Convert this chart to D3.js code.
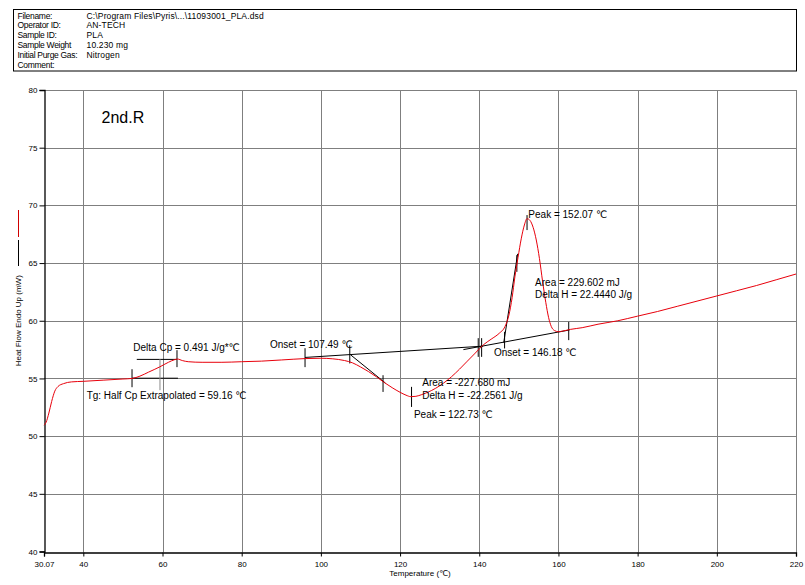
<!DOCTYPE html>
<html>
<head>
<meta charset="utf-8">
<script src="https://cdn.jsdelivr.net/npm/d3@7"></script>
<style>
  html, body { margin: 0; padding: 0; background: #fff; }
  svg { display: block; font-family: "Liberation Sans", Arial, "DejaVu Sans", sans-serif; }
</style>
</head>
<body>
<svg id="chart" width="805" height="585"></svg>
<script>
// ---------- header info ----------
const headerLabels = ["Filename:", "Operator ID:", "Sample ID:", "Sample Weight", "Initial Purge Gas:", "Comment:"];
const headerValues = ["C:\\Program Files\\Pyris\\...\\11093001_PLA.dsd", "AN-TECH", "PLA", "10.230 mg", "Nitrogen", ""];

// ---------- axes ----------
const xTicks = [30.07, 40, 60, 80, 100, 120, 140, 160, 180, 200, 220];
const xTickLabels = ["30.07", "40", "60", "80", "100", "120", "140", "160", "180", "200", "220"];
const yTicks = [40, 45, 50, 55, 60, 65, 70, 75, 80];
const xTitle = "Temperature (\u2103)";
const yTitle = "Heat Flow Endo Up (mW)";
const runLabel = "2nd.R";

// ---------- DSC curve (temperature °C, heat flow mW) ----------
const curveT = [30.07, 30.6, 31.3, 32.0, 32.8, 33.6, 35.0, 37.0, 40.0, 45.0, 50.0, 52.3, 54.3, 56.5, 59.3, 61.5, 63.0, 63.8, 65.0, 66.5,
  70.0, 75.0, 80.0, 85.0, 90.0, 96.0, 100.0, 103.0, 106.0, 108.0, 110.0, 112.0, 114.0, 116.0, 118.0, 120.0, 121.5, 122.73, 124.0, 125.5,
  127.0, 129.0, 131.0, 133.0, 135.0, 137.0, 139.0, 141.0, 143.0, 145.0, 146.5, 147.5, 148.3, 149.0, 149.8, 150.6, 151.4, 152.07, 152.8, 153.6,
  154.4, 155.2, 156.0, 156.8, 157.5, 158.2, 159.0, 160.0, 161.0, 163.0, 166.0, 170.0, 175.0, 180.0, 185.0, 190.0, 195.0, 200.0, 205.0, 210.0,
  215.0, 220.0];
const curveMW = [50.95, 51.2, 52.0, 53.0, 53.9, 54.3, 54.55, 54.7, 54.75, 54.85, 54.95, 55.0, 55.2, 55.55, 56.0, 56.4, 56.62, 56.68, 56.55, 56.45,
  56.4, 56.4, 56.45, 56.5, 56.6, 56.72, 56.75, 56.7, 56.55, 56.35, 56.0, 55.6, 55.15, 54.65, 54.2, 53.8, 53.55, 53.42, 53.45, 53.6,
  53.8, 54.15, 54.6, 55.15, 55.8, 56.5, 57.2, 57.9, 58.4, 58.9, 59.5, 60.5, 62.0, 63.8, 65.5, 67.1, 68.3, 68.85, 68.7, 68.1,
  67.0, 65.4, 63.4, 61.6, 60.3, 59.5, 59.15, 59.05, 59.1, 59.25, 59.4, 59.7, 60.0, 60.4, 60.8, 61.25, 61.7, 62.15, 62.6, 63.05,
  63.55, 64.05];

// ---------- analysis construction lines: [T1, mW1, T2, mW2] ----------
const analysisLines = [
  [53.5, 56.65, 63.6, 56.65],     // Tg upper baseline
  [52.3, 55.02, 63.9, 55.02],     // Tg lower baseline
  [96.0, 56.82, 141.0, 57.8],     // crystallization baseline
  [107.49, 57.05, 116.3, 54.6],   // crystallization onset tangent
  [136.0, 57.5, 162.8, 59.2],     // melting baseline
  [146.18, 58.1, 149.7, 65.8]     // melting onset tangent
];
// vertical marker ticks: [T, mWtop, mWbottom]
const markerTicks = [
  [52.3, 55.8, 54.24], [63.66, 57.45, 55.98],
  [96.0, 57.62, 55.98], [107.3, 57.88, 56.3], [115.7, 55.28, 53.83], [122.9, 54.27, 52.53],
  [139.74, 58.49, 56.87], [140.6, 58.49, 56.87],
  [146.4, 59.04, 57.6], [149.5, 65.69, 64.24], [152.07, 69.16, 67.86], [162.6, 59.9, 58.32]
];
const tgMarker = [59.36, 56.67, 53.98];

// ---------- annotation texts: [T, mW, text] ----------
const annotations = [
  [52.62, 57.39, "Delta Cp = 0.491 J/g*\u2103"],
  [40.84, 53.2, "Tg: Half Cp Extrapolated = 59.16 \u2103"],
  [87.14, 57.6, "Onset = 107.49 \u2103"],
  [125.6, 54.35, "Area = -227.680 mJ"],
  [125.6, 53.26, "Delta H = -22.2561 J/g"],
  [123.5, 51.6, "Peak = 122.73 \u2103"],
  [143.7, 56.93, "Onset = 146.18 \u2103"],
  [152.4, 68.87, "Peak = 152.07 \u2103"],
  [154.1, 63.0, "Area = 229.602 mJ"],
  [154.1, 61.93, "Delta H = 22.4440 J/g"]
];

// ---------- drawing ----------
const svg = d3.select("#chart");
const plot = { left: 44, right: 796, top: 90, bottom: 551.5 };
const x = d3.scaleLinear().domain([30.07, 220]).range([plot.left, plot.right]);
const y = d3.scaleLinear().domain([40, 80]).range([plot.bottom, plot.top]);

// header box
svg.append("rect").attr("x", 13.5).attr("y", 9.5).attr("width", 783).attr("height", 61.5)
  .attr("fill", "none").attr("stroke", "#000").attr("stroke-width", 1);
const hdr = svg.append("g").attr("font-size", 8.5).attr("fill", "#000");
headerLabels.forEach((t, i) => {
  const by = 18.5 + i * 9.9;
  hdr.append("text").attr("x", 17.5).attr("y", by).attr("letter-spacing", -0.3).text(t);
  hdr.append("text").attr("x", 86.5).attr("y", by).attr("letter-spacing", 0.15).text(headerValues[i]);
});

// grid
const grid = svg.append("g").attr("stroke", "#7f7f7f").attr("stroke-width", 1).attr("shape-rendering", "crispEdges");
grid.selectAll("line.vx").data(xTicks.slice(1)).join("line")
  .attr("x1", d => Math.round(x(d)) + 0.5).attr("x2", d => Math.round(x(d)) + 0.5)
  .attr("y1", plot.top).attr("y2", plot.bottom);
grid.selectAll("line.hy").data(yTicks.slice(1)).join("line")
  .attr("y1", d => Math.round(y(d)) + 0.5).attr("y2", d => Math.round(y(d)) + 0.5)
  .attr("x1", plot.left).attr("x2", plot.right);

// axes
const xAxis = d3.axisBottom(x).tickValues(xTicks).tickSize(4).tickPadding(5)
  .tickFormat((d, i) => xTickLabels[i]);
const gx = svg.append("g").attr("transform", `translate(0,${Math.round(plot.bottom) + 0.5})`).call(xAxis);
const yAxis = d3.axisLeft(y).tickValues(yTicks).tickSize(5).tickPadding(2).tickFormat(d3.format("d"));
const gy = svg.append("g").attr("transform", `translate(${plot.left + 0.5},0)`).call(yAxis);
[gx, gy].forEach(g => {
  g.select(".domain").attr("stroke", "#000").attr("stroke-width", 1.3);
  g.selectAll(".tick line").attr("stroke", "#000");
  g.selectAll(".tick text").attr("font-size", 8).attr("font-family", "Liberation Sans, Arial, sans-serif").attr("fill", "#000");
});

// axis titles
svg.append("text").attr("x", (plot.left + plot.right) / 2).attr("y", 576).attr("text-anchor", "middle")
  .attr("font-size", 8).text(xTitle);
svg.append("text").attr("transform", `translate(21,${(plot.top + plot.bottom) / 2}) rotate(-90)`)
  .attr("text-anchor", "middle").attr("font-size", 8).text(yTitle);
// legend marker on y-title
svg.append("line").attr("x1", 18.5).attr("x2", 18.5).attr("y1", 210).attr("y2", 237).attr("stroke", "#d00000").attr("stroke-width", 1);
svg.append("line").attr("x1", 18.5).attr("x2", 18.5).attr("y1", 240).attr("y2", 266).attr("stroke", "#000").attr("stroke-width", 1);

// run label
svg.append("text").attr("x", x(44.6)).attr("y", y(77.14)).attr("font-size", 16).text(runLabel);

// analysis lines
const ana = svg.append("g").attr("stroke", "#000").attr("stroke-width", 1);
ana.selectAll("line.a").data(analysisLines).join("line")
  .attr("x1", d => x(d[0])).attr("y1", d => y(d[1])).attr("x2", d => x(d[2])).attr("y2", d => y(d[3]));
ana.selectAll("line.t").data(markerTicks).join("line")
  .attr("x1", d => x(d[0])).attr("x2", d => x(d[0])).attr("y1", d => y(d[1])).attr("y2", d => y(d[2]));
svg.append("line").attr("x1", x(tgMarker[0])).attr("x2", x(tgMarker[0]))
  .attr("y1", y(tgMarker[1])).attr("y2", y(tgMarker[2])).attr("stroke", "#8a8a8a").attr("stroke-width", 1);

// DSC curve
const pts = curveT.map((t, i) => [t, curveMW[i]]);
svg.append("path").datum(pts)
  .attr("fill", "none").attr("stroke", "#e8000b").attr("stroke-width", 1)
  .attr("d", d3.line().x(d => x(d[0])).y(d => y(d[1])).curve(d3.curveMonotoneX));

// annotations
svg.append("g").attr("font-size", 10).attr("fill", "#000")
  .selectAll("text").data(annotations).join("text")
  .attr("x", d => x(d[0])).attr("y", d => y(d[1])).text(d => d[2]);
</script>
</body>
</html>
